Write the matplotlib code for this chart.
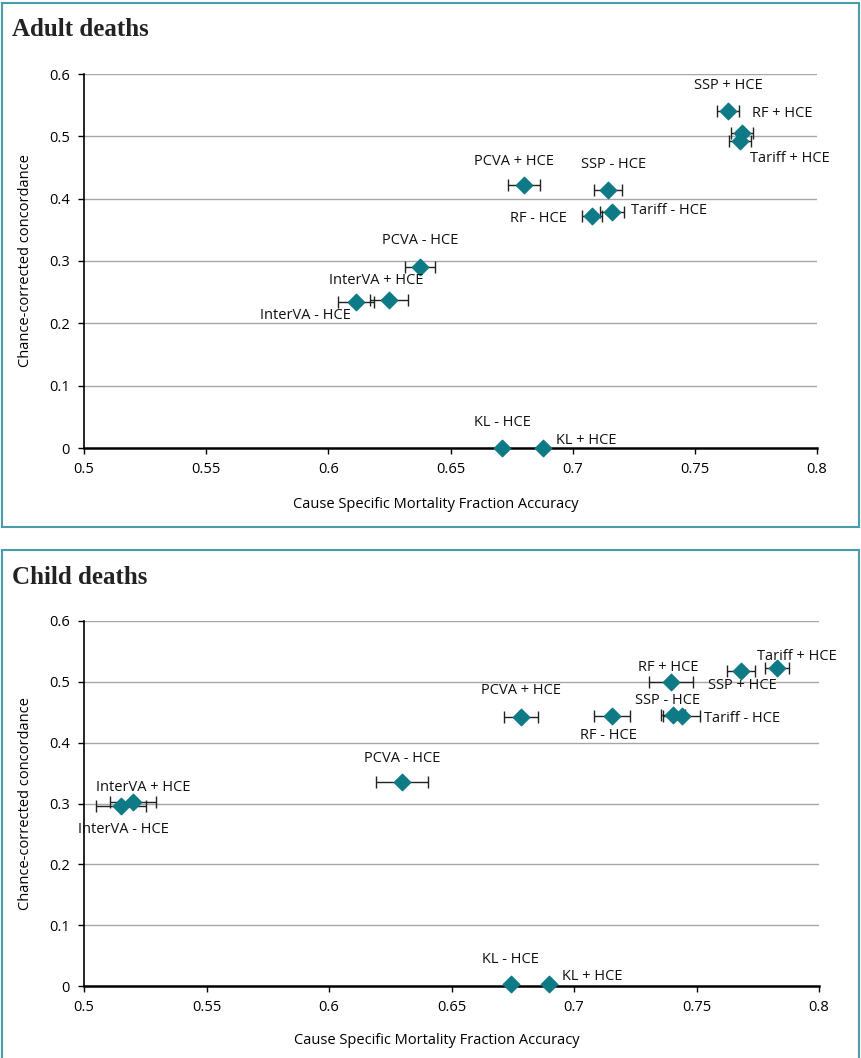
import matplotlib
matplotlib.use("Agg")
import matplotlib.pyplot as plt
from matplotlib.patches import Rectangle

# Adult deaths data
adult_labels = ["SSP + HCE", "RF + HCE", "Tariff + HCE", "PCVA + HCE", "SSP - HCE",
                "RF - HCE", "Tariff - HCE", "PCVA - HCE", "InterVA + HCE",
                "InterVA - HCE", "KL - HCE", "KL + HCE"]
adult_csmf = [0.7636, 0.7693, 0.7685, 0.680, 0.7145, 0.708, 0.716, 0.6375, 0.6248, 0.6113, 0.6711, 0.6877]
adult_ccc = [0.541, 0.506, 0.493, 0.422, 0.414, 0.372, 0.379, 0.291, 0.2376, 0.234, 0.0, 0.0]
adult_err = [0.0045, 0.0045, 0.0045, 0.0065, 0.0057, 0.004, 0.005, 0.006, 0.0078, 0.0074, 0.0, 0.0]

# Child deaths data
child_labels = ["Tariff + HCE", "SSP + HCE", "RF + HCE", "PCVA + HCE", "SSP - HCE",
                "RF - HCE", "Tariff - HCE", "PCVA - HCE", "InterVA + HCE",
                "InterVA - HCE", "KL - HCE", "KL + HCE"]
child_csmf = [0.7829, 0.7682, 0.7396, 0.6784, 0.7404, 0.7155, 0.744, 0.6298, 0.520, 0.515, 0.6742, 0.690]
child_ccc = [0.523, 0.518, 0.500, 0.4425, 0.446, 0.444, 0.444, 0.3355, 0.3026, 0.296, 0.003, 0.003]
child_err = [0.005, 0.0057, 0.009, 0.007, 0.005, 0.0072, 0.0075, 0.0107, 0.0094, 0.0102, 0.0, 0.0]

xticks = [0.5, 0.55, 0.6, 0.65, 0.7, 0.75, 0.8]
yticks = [0, 0.1, 0.2, 0.3, 0.4, 0.5, 0.6]

# label offsets in pixels (dx, dy, ha)
adult_offsets = [(0, 25, "center"), (10, 19, "left"), (10, -18, "left"), (-10, 23, "center"),
                 (5, 25, "center"), (-25, -2, "right"), (19, 1, "left"), (0, 26, "center"),
                 (-13, 19, "center"), (-5, -13, "right"), (0, 25, "center"), (13, 7, "left")]
child_offsets = [(-20, 11, "left"), (1, -15, "center"), (-3, 14, "center"), (0, 26, "center"),
                 (-5, 14, "center"), (-4, -20, "center"), (22, -3, "left"), (0, 23, "center"),
                 (10, 14, "center"), (3, -24, "center"), (0, 25, "center"), (13, 8, "left")]

plt.rcParams["font.family"] = ["Open Sans", "DejaVu Sans"]
teal = "#0d7a86"
frame = "#4a9cab"

fig = plt.figure(figsize=(8.61, 10.58), dpi=100)

# panel frames
fig.patches.append(Rectangle((2 / 861, (1058 - 527) / 1058), 857 / 861, 524 / 1058,
                             transform=fig.transFigure, fill=False, edgecolor=frame, linewidth=1.5))
fig.patches.append(Rectangle((2 / 861, -0.01), 857 / 861, (1058 - 550) / 1058 + 0.01,
                             transform=fig.transFigure, fill=False, edgecolor=frame, linewidth=1.5))

fig.text(12 / 861, 1 - 30 / 1058, "Adult deaths", fontsize=18, fontweight="bold",
         family="Liberation Serif", va="center", color="#222222")
fig.text(12 / 861, 1 - 578 / 1058, "Child deaths", fontsize=18, fontweight="bold",
         family="Liberation Serif", va="center", color="#222222")

ax1 = fig.add_axes([84 / 861, (1058 - 448) / 1058, 733 / 861, 374 / 1058])
ax2 = fig.add_axes([84 / 861, (1058 - 986) / 1058, 735 / 861, 365 / 1058])


def draw(ax, labels, xs, ys, errs, offsets):
    for y in yticks[1:]:
        ax.axhline(y, color="#a6a6a6", linewidth=1, zorder=0)
    for x, y, e in zip(xs, ys, errs):
        if e > 0:
            ax.errorbar(x, y, xerr=e, fmt="none", ecolor="#222222", elinewidth=1,
                        capsize=4, capthick=1, zorder=2)
    ax.scatter(xs, ys, marker="D", s=70, color=teal, zorder=3, clip_on=False)
    for lab, x, y, (dx, dy, ha) in zip(labels, xs, ys, offsets):
        ax.annotate(lab, (x, y), xytext=(dx, dy), textcoords="offset pixels",
                    ha=ha, va="center", fontsize=10.5, color="#111111")
    ax.set_xlim(0.5, 0.8)
    ax.set_ylim(0, 0.6)
    ax.set_xticks(xticks)
    ax.set_xticklabels(["0.5", "0.55", "0.6", "0.65", "0.7", "0.75", "0.8"])
    ax.set_yticks(yticks)
    ax.set_yticklabels(["0", "0.1", "0.2", "0.3", "0.4", "0.5", "0.6"])
    ax.tick_params(labelsize=10.5, length=4, width=1, direction="out", pad=6)
    for s in ["top", "right"]:
        ax.spines[s].set_visible(False)
    ax.spines["left"].set_linewidth(1.2)
    ax.spines["bottom"].set_linewidth(1.8)
    ax.set_xlabel("Cause Specific Mortality Fraction Accuracy", fontsize=10.5)
    ax.xaxis.set_label_coords(0.48, -0.13)
    ax.set_ylabel("Chance-corrected concordance", fontsize=10.5, labelpad=12)
    ax.patch.set_alpha(0)


draw(ax1, adult_labels, adult_csmf, adult_ccc, adult_err, adult_offsets)
draw(ax2, child_labels, child_csmf, child_ccc, child_err, child_offsets)

fig.savefig("out.png", dpi=100)
